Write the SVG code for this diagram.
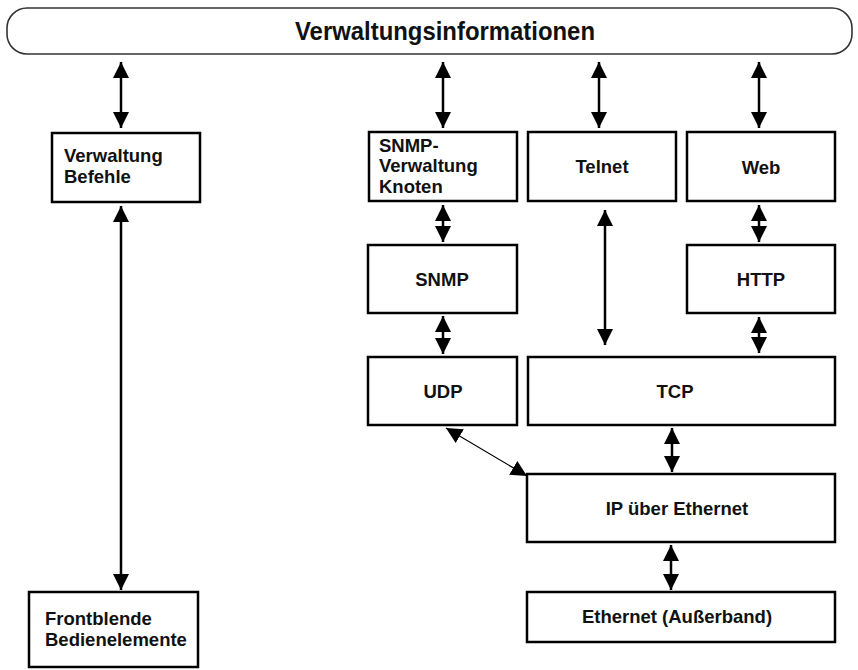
<svg xmlns="http://www.w3.org/2000/svg" width="858" height="670" viewBox="0 0 858 670">
<style>
.box{fill:#fff;stroke:#000;stroke-width:2.5}
.t{font-family:"Liberation Sans",Arial,sans-serif;font-weight:bold;font-size:18.5px;fill:#111}
.c{text-anchor:middle}
.a{stroke:#000;stroke-width:2.5;fill:none;marker-start:url(#ah);marker-end:url(#ah)}
.thin{stroke:#000;stroke-width:1.2;fill:none;marker-start:url(#ah2);marker-end:url(#ah2)}
</style>
<defs>
<marker id="ah" markerUnits="userSpaceOnUse" markerWidth="16" markerHeight="16" refX="14" refY="7" orient="auto-start-reverse" viewBox="0 0 14 14"><path d="M0,0 L14,7 L0,14 z" fill="#000"/></marker>
<marker id="ah2" markerUnits="userSpaceOnUse" markerWidth="16" markerHeight="16" refX="14" refY="7" orient="auto-start-reverse" viewBox="0 0 14 14"><path d="M0,0 L14,7 L0,14 z" fill="#000"/></marker>
</defs>
<rect width="858" height="670" fill="#fff"/>
<g id="banner">
<rect x="7" y="8" width="845" height="46" rx="20" ry="20" fill="#fff" stroke="#333" stroke-width="1.6"/>
<text class="t c" x="445" y="40" textLength="300" lengthAdjust="spacingAndGlyphs" style="font-size:26px">Verwaltungsinformationen</text>
</g>
<g id="connectors">
<line class="a" x1="121" y1="62" x2="121" y2="128"/>
<line class="a" x1="443" y1="62" x2="443" y2="128"/>
<line class="a" x1="599" y1="62" x2="599" y2="128"/>
<line class="a" x1="759" y1="62" x2="759" y2="128"/>
<line class="a" x1="121" y1="206" x2="121" y2="590"/>
<line class="a" x1="443" y1="205" x2="443" y2="242"/>
<line class="a" x1="605" y1="210" x2="605" y2="345"/>
<line class="a" x1="759" y1="205" x2="759" y2="242"/>
<line class="a" x1="443" y1="316" x2="443" y2="354"/>
<line class="a" x1="759" y1="317" x2="759" y2="353"/>
<line class="thin" x1="446" y1="428" x2="527" y2="476"/>
<line class="a" x1="672" y1="428" x2="672" y2="472"/>
<line class="a" x1="671" y1="545" x2="671" y2="590"/>
</g>
<g id="verwaltung-befehle">
<rect class="box" x="52" y="133" width="148" height="69"/>
<text class="t" x="64" y="162">Verwaltung</text>
<text class="t" x="64" y="183">Befehle</text>
</g>
<g id="snmp-verwaltung-knoten">
<rect class="box" x="369" y="132" width="148" height="69"/>
<text class="t" x="379" y="152">SNMP-</text>
<text class="t" x="379" y="172">Verwaltung</text>
<text class="t" x="379" y="193">Knoten</text>
</g>
<g id="telnet">
<rect class="box" x="528" y="132" width="148" height="69"/>
<text class="t c" x="602" y="173">Telnet</text>
</g>
<g id="web">
<rect class="box" x="687" y="132" width="148" height="69"/>
<text class="t c" x="761" y="174">Web</text>
</g>
<g id="snmp">
<rect class="box" x="368" y="245" width="149" height="68"/>
<text class="t c" x="442" y="286">SNMP</text>
</g>
<g id="http">
<rect class="box" x="687" y="245" width="148" height="68"/>
<text class="t c" x="761" y="286">HTTP</text>
</g>
<g id="udp">
<rect class="box" x="368" y="357" width="149" height="68"/>
<text class="t c" x="443" y="398">UDP</text>
</g>
<g id="tcp">
<rect class="box" x="528" y="357" width="307" height="68"/>
<text class="t c" x="675" y="398">TCP</text>
</g>
<g id="ip">
<rect class="box" x="527" y="474" width="308" height="68"/>
<text class="t c" x="677" y="515">IP über Ethernet</text>
</g>
<g id="ethernet">
<rect class="box" x="527" y="592" width="308" height="50"/>
<text class="t c" x="677" y="623">Ethernet (Außerband)</text>
</g>
<g id="frontblende">
<rect class="box" x="29" y="592" width="169" height="75"/>
<text class="t" x="45" y="625">Frontblende</text>
<text class="t" x="45" y="646">Bedienelemente</text>
</g>
</svg>
